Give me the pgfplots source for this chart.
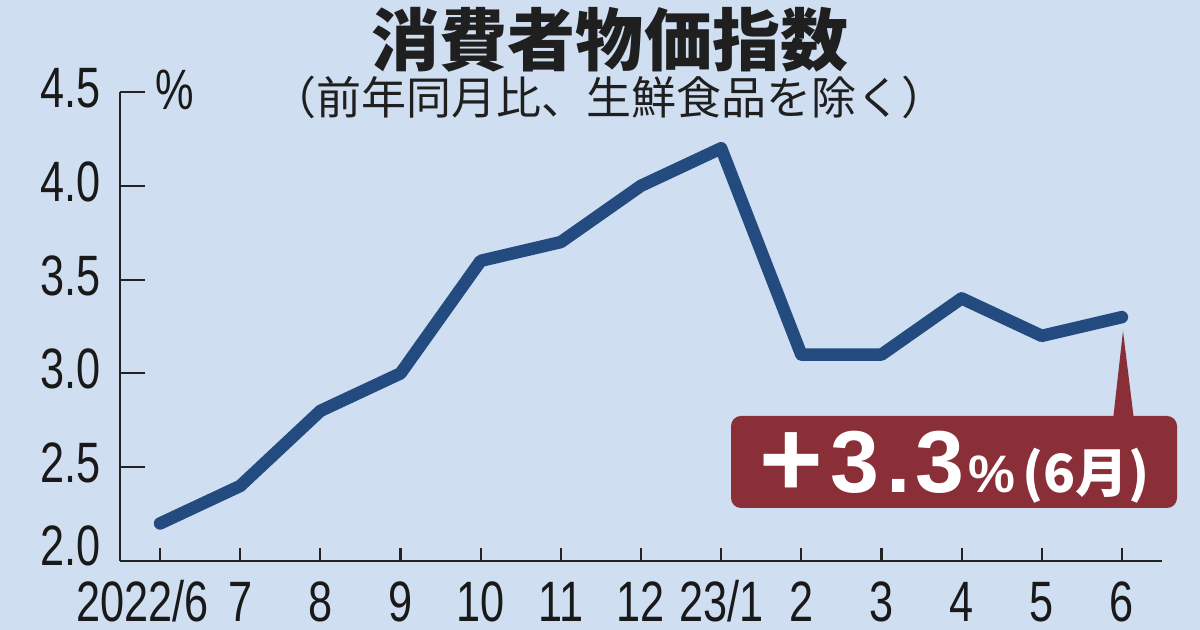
\documentclass[border=0pt]{standalone}
\usepackage{fontspec}
\usepackage{pgfplots}
\pgfplotsset{compat=1.18}
\setmainfont{Liberation Sans}
\newfontfamily\condfont[FakeStretch=0.76]{Liberation Sans}
\newfontfamily\jpfont{Noto Sans CJK JP}
\definecolor{bg}{RGB}{207,223,241}
\definecolor{linec}{RGB}{35,75,128}
\definecolor{boxc}{RGB}{138,46,56}
\definecolor{axisc}{RGB}{35,35,35}
\begin{document}
\begin{tikzpicture}
\fill[bg] (0,0) rectangle (12,6.3);
\path[use as bounding box] (0,0) rectangle (12,6.3);
\begin{axis}[
  at={(1.2cm,0.69cm)}, anchor=south west, scale only axis,
  width=10.42cm, height=4.69cm,
  xmin=-0.5, xmax=12.5, ymin=2, ymax=4.5,
  axis x line=bottom, axis y line=left,
  axis line style={-, draw=axisc, line width=0.6pt},
  clip=false,
  tick align=inside,
  major tick length=1.3mm,
  xtick={0,...,12},
  xticklabels={2022/6\hspace*{3.5mm},7,8,9,10,11,12,23/1,2,3,4,5,6},
  x tick style={draw=axisc, line width=0.6pt},
  ytick={2.5,3,3.5,4,4.5},
  yticklabels={2.5,3.0,3.5,4.0,4.5},
  y tick style={draw=none},
  extra y ticks={2},
  extra y tick labels={2.0},
  extra y tick style={yticklabel style={yshift=1.1mm}},
  xticklabel style={font=\condfont\fontsize{16.2}{16.2}\selectfont, text=black!90, anchor=base, inner sep=0pt, yshift=-6.1mm},
  yticklabel style={font=\condfont\fontsize{16.2}{16.2}\selectfont, text=black!90, anchor=east, inner sep=0pt, xshift=-1.9mm, yshift=0.4mm},
]
\addplot[linec, line width=1.25mm, line join=round, line cap=round] coordinates {
  (0,2.2) (1,2.4) (2,2.8) (3,3.0) (4,3.6) (5,3.7) (6,4.0) (7,4.2)
  (8,3.1) (9,3.1) (10,3.4) (11,3.2) (12,3.3)};
\pgfplotsinvokeforeach{2.5,3,3.5,4,4.5}{
  \draw[axisc, line width=0.6pt] (axis cs:-0.5,#1) -- ([xshift=2.5mm]axis cs:-0.5,#1);
}
\end{axis}
% title
\node[font=\jpfont\bfseries\fontsize{19.35}{19.35}\selectfont, text=black!88, inner sep=0pt] at (6.10,5.90) {消費者物価指数};
\node[font=\jpfont\fontsize{12.8}{12.8}\selectfont, text=black!88, inner sep=0pt] at (6.09,5.33) {（前年同月比、生鮮食品を除く）};
% percent unit
\node[font=\condfont\fontsize{16.2}{16.2}\selectfont, text=black!90, anchor=west, inner sep=0pt] at (1.55,5.40) {\%};
% callout
\fill[boxc, rounded corners=1mm] (7.31,1.22) rectangle (11.77,2.14);
\fill[boxc] (11.13,2.10) -- (11.23,2.99) -- (11.34,2.10) -- cycle;
\node[font=\bfseries\fontsize{31}{31}\selectfont, text=white, inner sep=0pt] at (7.915,1.65) {+};
\node[font=\bfseries\fontsize{25}{25}\selectfont, text=white, inner sep=0pt, anchor=base] at (8.55,1.37) {3};
\node[font=\bfseries\fontsize{25}{25}\selectfont, text=white, inner sep=0pt, anchor=base] at (8.985,1.37) {.};
\node[font=\bfseries\fontsize{25}{25}\selectfont, text=white, inner sep=0pt, anchor=base] at (9.40,1.37) {3};
\node[font=\bfseries\fontsize{15}{15}\selectfont, text=white, inner sep=0pt, anchor=base west] at (9.68,1.37) {\%};
\node[font=\jpfont\bfseries\fontsize{15}{15}\selectfont, text=white, inner sep=0pt, anchor=base west] at (10.22,1.37) {(6月)};
\end{tikzpicture}
\end{document}
